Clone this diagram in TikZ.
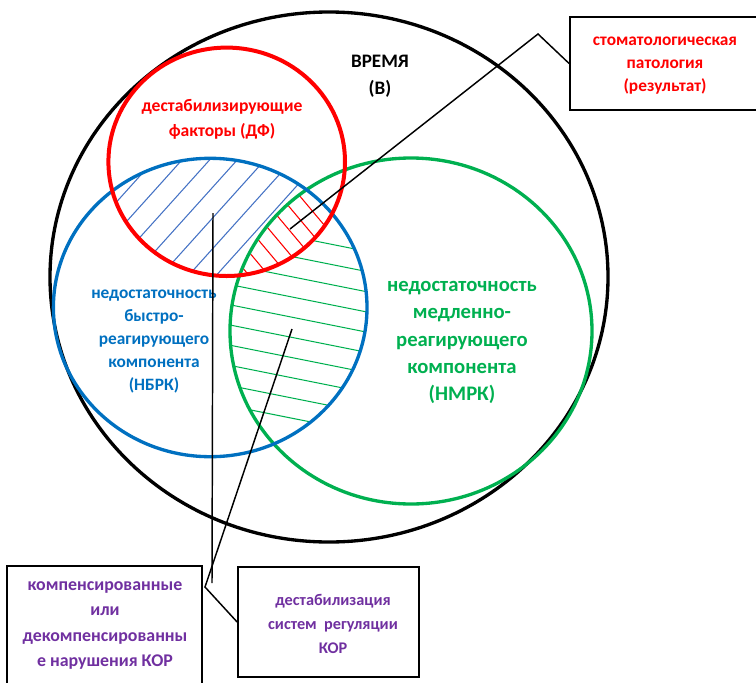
\documentclass[tikz,border=0pt]{standalone}
\usepackage{fontspec}
\setmainfont{Carlito}
\definecolor{cred}{HTML}{FF0000}
\definecolor{cblue}{HTML}{0070C0}
\definecolor{cgreen}{HTML}{00B050}
\definecolor{cpurple}{HTML}{7030A0}
\definecolor{hblue}{HTML}{4472C4}
\begin{document}
\begin{tikzpicture}[x=0.75pt,y=-0.75pt,
  ring/.style={line width=2.5pt},
  hatchst/.style={line width=0.8pt},
  conn/.style={line width=1.1pt,black},
  boxst/.style={draw=black,line width=1.3pt,rectangle,inner sep=0pt},
  lbl/.style={font=\bfseries,align=center,inner sep=0pt}
]
\useasboundingbox (0,0) rectangle (756,682);
\clip (0,0) rectangle (756,682);
\def\RedC{(226.7,161.8) ellipse [x radius=118.3, y radius=114.2]}
\def\BlueC{(210.2,307.5) ellipse [x radius=156.8, y radius=149.2]}
\def\GreenC{(411,331) ellipse [x radius=181, y radius=173]}
% blue hatch: red & blue minus green
\begin{scope}[even odd rule]
  \clip \RedC;
  \clip \BlueC;
  \clip (-100,-100) rectangle (900,800) \GreenC;
  \foreach \k in {-3,...,5} {
    \pgfmathsetmacro\cc{392.8+30.7*\k}
    \draw[hatchst,hblue] (80,{\cc-1.111*80}) -- (360,{\cc-1.111*360});
  }
\end{scope}
% red hatch: red & blue & green
\begin{scope}
  \clip \RedC;
  \clip \BlueC;
  \clip \GreenC;
  \foreach \k in {-5,...,5} {
    \pgfmathsetmacro\cc{-137.4+23.3*\k}
    \draw[hatchst,cred] (200,{\cc+1.19*200}) -- (380,{\cc+1.19*380});
  }
\end{scope}
% green hatch: green & blue minus red
\begin{scope}[even odd rule]
  \clip \GreenC;
  \clip \BlueC;
  \clip (-100,-100) rectangle (900,800) \RedC;
  \foreach \k in {0,...,9} {
    \pgfmathsetmacro\cc{178+20.2*\k}
    \draw[hatchst,cgreen] (220,{\cc+0.2*220}) -- (380,{\cc+0.2*380});
  }
\end{scope}
% circles
\draw[ring,black] (329,277) ellipse [x radius=279, y radius=265];
\draw[ring,cgreen] \GreenC;
\draw[ring,cblue] \BlueC;
\draw[ring,cred,line width=3pt] \RedC;
% texts
\node[lbl,font=\bfseries\fontsize{14.3}{20.3}\selectfont,black] (tvr) at (380,76.5) {ВРЕМЯ\\(В)};
\node[lbl,font=\bfseries\fontsize{13.2}{18.8}\selectfont,cred] (tdf) at (222,119.5) {дестабилизирующие\\факторы (ДФ)};
\node[lbl,font=\bfseries\fontsize{13}{17.3}\selectfont,cblue] (tnb) at (154,341.5) {недостаточность\\быстро-\\реагирующего\\компонента\\(НБРК)};
\node[lbl,font=\bfseries\fontsize{15.5}{20.3}\selectfont,cgreen] (tnm) at (462,342.5) {недостаточность\\медленно-\\реагирующего\\компонента\\(НМРК)};
% boxes
\node[boxst,minimum width=172.5pt,minimum height=69.75pt] (b1) at (685,63.5) {};
\node[lbl,font=\bfseries\fontsize{13}{17.3}\selectfont,cred] (t1) at (665,66) {стоматологическая\\патология\\(результат)};
\node[boxst,minimum width=146.25pt,minimum height=100.5pt] (b2) at (104.5,633) {};
\node[lbl,font=\bfseries\fontsize{13.4}{18.8}\selectfont,cpurple] (t2) at (105,625.5) {компенсированные\\или\\декомпенсированны\\е нарушения КОР};
\node[boxst,minimum width=135.75pt,minimum height=82.5pt] (b3) at (328.5,622) {};
\node[lbl,font=\bfseries\fontsize{12.2}{18}\selectfont,cpurple] (t3) at (333,624) {дестабилизация\\систем\ \ регуляции\\КОР};
% connectors
\coordinate (p1) at (538,34);
\coordinate (h1) at (290,229);
\draw[conn] (b1.west) -- (p1) -- (h1);
\coordinate (h2) at (213,213);
\coordinate (e2) at (212,583);
\draw[conn] (h2) -- (e2);
\coordinate (h3) at (292,329);
\coordinate (p3) at (205,587);
\draw[conn] (h3) -- (p3) -- (b3.west);
\end{tikzpicture}
\end{document}
